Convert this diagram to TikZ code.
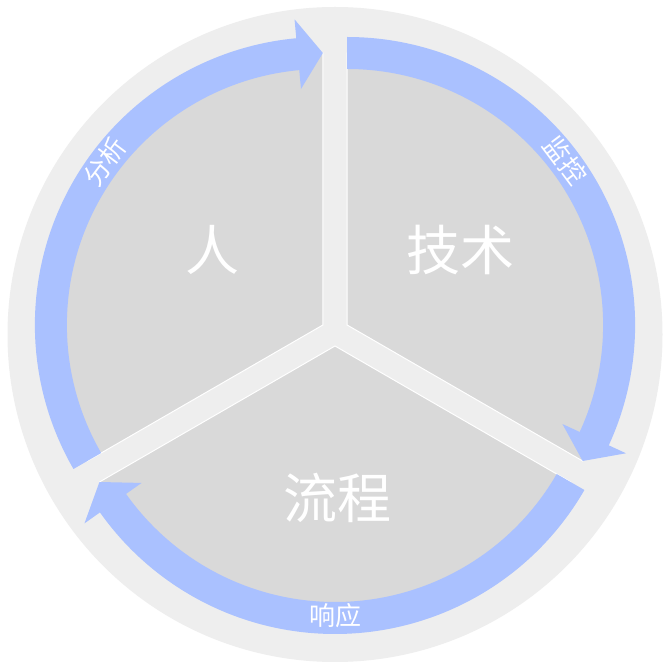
\documentclass[tikz,border=0pt]{standalone}
\usepackage{fontspec}
\newfontfamily\cjk{Noto Sans CJK SC}
\definecolor{outerbg}{RGB}{238,238,238}
\definecolor{sectorgray}{RGB}{217,217,217}
\definecolor{bandblue}{RGB}{170,193,255}
\begin{document}
\begin{tikzpicture}[x=1pt,y=1pt,
  sectorpart/.style={fill=sectorgray, draw=white, line width=1pt, line join=miter},
  band/.style={fill=bandblue},
  lbl/.style={font=\cjk\fontsize{26}{26}\selectfont, text=white, inner sep=0pt},
  bigtxt/.style={font=\cjk\fontsize{54}{54}\selectfont, text=white, inner sep=0pt}]
\useasboundingbox (0,0) rectangle (670,670);
\fill[white] (0,0) rectangle (670,670);
\fill[outerbg] (335,335.5) circle[radius=327.5];
\coordinate (L) at (322.88,345);
\coordinate (R) at (347.12,345);
\coordinate (B) at (335,324);
% sectors
\begin{scope}[shift={(L)}]
  \path[sectorpart] (0,0) -- (210:272) arc[start angle=210,end angle=90,radius=272] -- cycle;
\end{scope}
\begin{scope}[shift={(R)}]
  \path[sectorpart] (0,0) -- (90:272) arc[start angle=90,end angle=-30,radius=272] -- cycle;
\end{scope}
\begin{scope}[shift={(B)}]
  \path[sectorpart] (0,0) -- (330:272) arc[start angle=330,end angle=210,radius=272] -- cycle;
\end{scope}
% bands with arrowheads
\begin{scope}[shift={(L)}]
  \fill[band] (210:288) arc[start angle=210,end angle=95.3,radius=288] -- (95.3:307) -- (90:272) -- (95.3:237) -- (95.3:256) arc[start angle=95.3,end angle=210,radius=256] -- cycle;
  \node[lbl, rotate=53.2] (fenxi) at (143.2:272) {分析};
\end{scope}
\begin{scope}[shift={(R)}]
  \fill[band] (90:288) arc[start angle=90,end angle=-24.7,radius=288] -- (-24.7:307) -- (-30:272) -- (-24.7:237) -- (-24.7:256) arc[start angle=-24.7,end angle=90,radius=256] -- cycle;
  \node[lbl, rotate=-53] (jiankong) at (37:273) {监控};
\end{scope}
\begin{scope}[shift={(B)}]
  \fill[band] (330:288) arc[start angle=330,end angle=215.3,radius=288] -- (215.3:307) -- (210:272) -- (215.3:237) -- (215.3:256) arc[start angle=215.3,end angle=330,radius=256] -- cycle;
  \node[lbl] (xiangying) at (270:270) {响应};
\end{scope}
% big labels
\node[bigtxt] (ren) at (212,420) {人};
\node[bigtxt] (jishu) at (460,420) {技术};
\node[bigtxt] (liucheng) at (337,172) {流程};
\end{tikzpicture}
\end{document}
